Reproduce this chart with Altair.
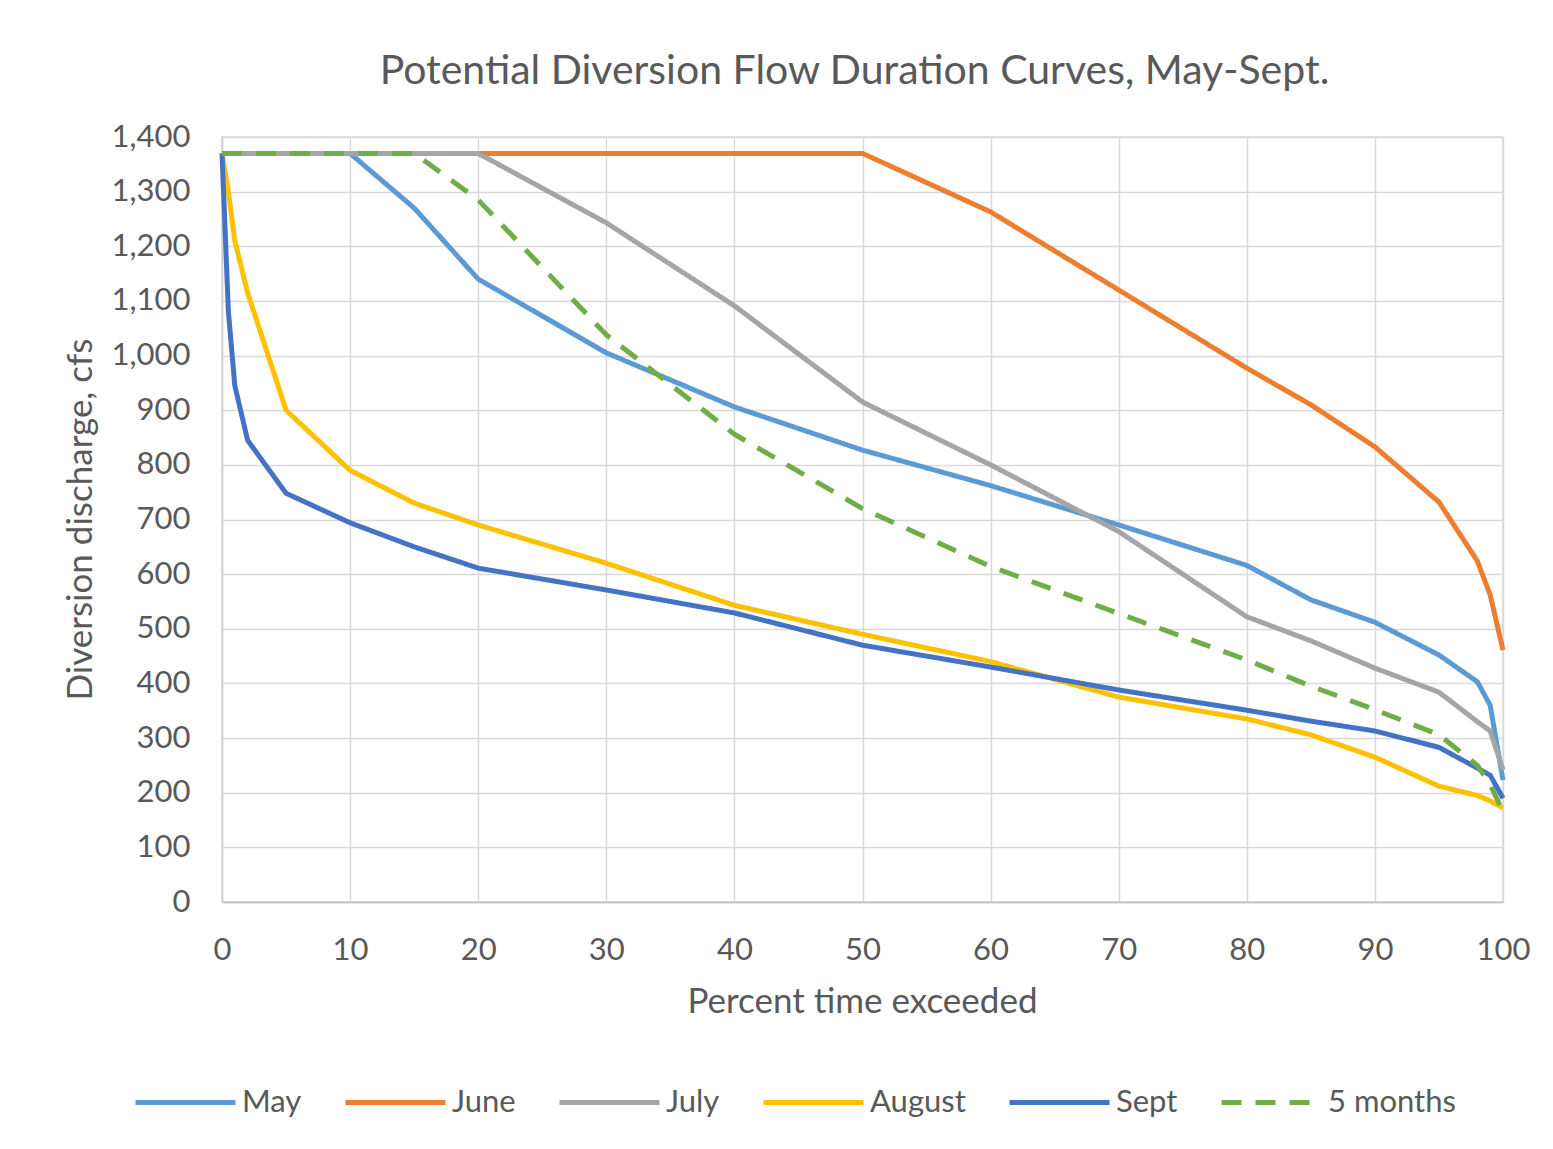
import altair as alt
import pandas as pd

pct = [0, 0.5, 1, 2, 5, 10, 15, 20, 30, 40, 50, 60, 70, 80, 85, 90, 95, 98, 99, 100]

series_names = ["May", "June", "July", "August", "Sept", "5 months"]
series_colors = ["#5B9BD5", "#ED7D31", "#A5A5A5", "#FFC000", "#4472C4", "#70AD47"]

may = [1370, 1370, 1370, 1370, 1370, 1370, 1270, 1140, 1005, 906, 827, 762, 690, 616, 553, 512, 452, 403, 360, 223]
june = [1370, 1370, 1370, 1370, 1370, 1370, 1370, 1370, 1370, 1370, 1370, 1263, 1120, 977, 910, 833, 732, 624, 562, 461]
july = [1370, 1370, 1370, 1370, 1370, 1370, 1370, 1370, 1243, 1091, 915, 800, 678, 522, 478, 428, 384, 330, 313, 242]
august = [1370, 1300, 1210, 1115, 900, 790, 730, 690, 620, 543, 490, 440, 375, 335, 306, 265, 212, 195, 185, 172]
sept = [1370, 1080, 945, 845, 748, 694, 650, 611, 571, 529, 470, 430, 388, 351, 331, 313, 283, 245, 232, 190]
five_months = [1370, 1370, 1370, 1370, 1370, 1370, 1370, 1285, 1038, 856, 720, 614, 528, 443, 395, 352, 306, 250, 215, 165]

y_ticks = list(range(0, 1401, 100))
x_ticks = list(range(0, 101, 10))

rows = []
for name, vals in zip(series_names, [may, june, july, august, sept, five_months]):
    for i, (p, v) in enumerate(zip(pct, vals)):
        rows.append({"series": name, "pct": p, "value": v, "order": i})
df = pd.DataFrame(rows)

FONT = "Lato"
TXT = "#595959"

legend = alt.Legend(
    title=None, orient="none", legendX=-89, legendY=913, direction="horizontal",
    columns=6, gridAlign="none", symbolType="stroke", symbolSize=10000,
    symbolStrokeWidth=5, labelFontSize=31, labelFont=FONT, labelColor=TXT,
    labelOffset=4, columnPadding=33, padding=0, labelLimit=300,
)

chart = alt.Chart(df).mark_line(strokeWidth=5, strokeJoin="round").encode(
    x=alt.X("pct:Q", scale=alt.Scale(domain=[0, 100], nice=False),
            axis=alt.Axis(values=x_ticks, format="d", title="Percent time exceeded",
                          labelPadding=33, labelFlush=False, domainColor="#bfbfbf",
                          titleX=640, titleY=99, titleAlign="center", titleBaseline="middle")),
    y=alt.Y("value:Q", scale=alt.Scale(domain=[0, 1400], nice=False),
            axis=alt.Axis(values=y_ticks, format=",d", title="Diversion discharge, cfs",
                          labelPadding=32, labelFlush=False, titleX=-142, titleY=382,
                          titleAngle=270, titleAlign="center", titleBaseline="middle")),
    color=alt.Color("series:N", scale=alt.Scale(domain=series_names, range=series_colors),
                    sort=series_names, legend=legend),
    strokeDash=alt.StrokeDash("series:N", scale=alt.Scale(domain=series_names,
                              range=[[1, 0], [1, 0], [1, 0], [1, 0], [1, 0], [20, 14]]),
                              sort=series_names, legend=legend),
    order="order:Q",
).properties(
    width=1281, height=765,
    title=alt.TitleParams("Potential Diversion Flow Duration Curves, May-Sept.",
                          fontSize=41, font=FONT, fontWeight="normal", color=TXT,
                          anchor="middle", offset=28, dx=-8),
    autosize=alt.AutoSizeParams(type="none"),
    padding={"left": 214, "top": 129, "right": 42, "bottom": 230},
).configure_axis(
    grid=True, gridColor="#d9d9d9", gridWidth=1.5, ticks=False,
    domainColor="#d0d0d0", domainWidth=1.5,
    labelFont=FONT, labelFontSize=31, labelColor=TXT,
    titleFont=FONT, titleFontSize=35, titleColor=TXT, titleFontWeight="normal",
).configure_view(stroke="#d9d9d9", strokeWidth=1.5)

chart.save("out.html", embed_options={"renderer": "svg", "actions": False})
